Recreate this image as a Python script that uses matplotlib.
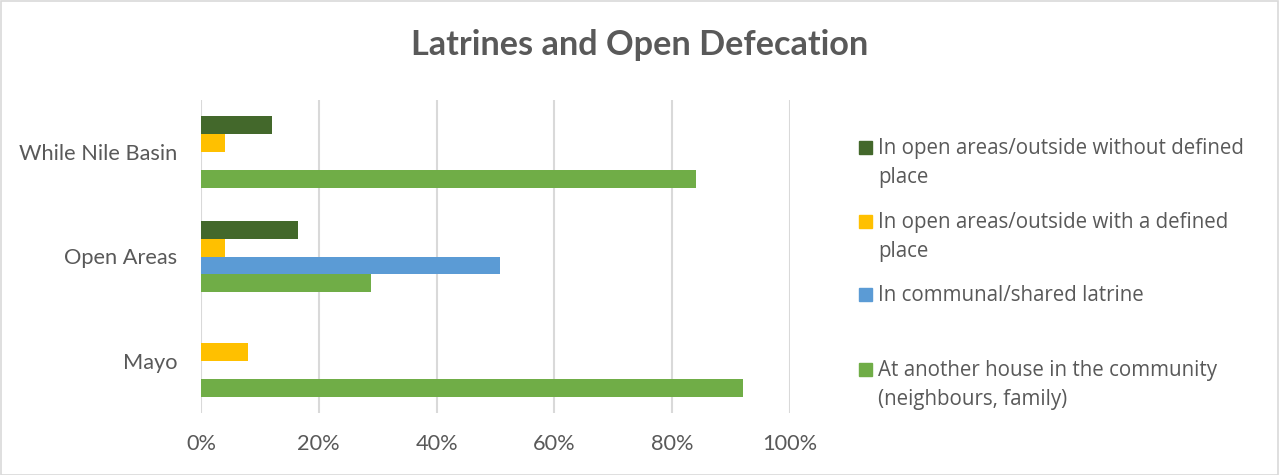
import matplotlib
matplotlib.use('Agg')
import matplotlib.pyplot as plt
from matplotlib.patches import Rectangle
from matplotlib.ticker import PercentFormatter

W, H = 1279, 475

categories = ['Mayo', 'Open Areas', 'While Nile Basin']

# series, bottom bar of each group first
series_names = [
    'At another house in the community\n(neighbours, family)',
    'In communal/shared latrine',
    'In open areas/outside with a defined\nplace',
    'In open areas/outside without defined\nplace',
]
another_house = [92.1, 28.8, 84.1]
communal = [0, 50.8, 0]
open_defined = [8.0, 4.1, 4.0]
open_undefined = [0, 16.4, 12.0]
series_values = [another_house, communal, open_defined, open_undefined]
colors = ['#70AD47', '#5B9BD5', '#FFC000', '#43682B']

x_ticks = [0, 20, 40, 60, 80, 100]

text_color = '#595959'
grid_color = '#D9D9D9'


def px(x, y):
    # pixel position -> figure fraction
    return x / W, 1 - y / H


fig = plt.figure(figsize=(W / 100, H / 100), dpi=100)
ax = fig.add_axes([201 / W, 1 - 413 / H, 589 / W, 313 / H])

bar_h = 0.171
n = len(series_values)
for i, (vals, col) in enumerate(zip(series_values, colors)):
    offset = (i - (n - 1) / 2) * bar_h
    ax.barh([k + offset for k in range(len(categories))], vals,
            height=bar_h, color=col, edgecolor='none', zorder=3)

ax.set_xlim(0, 100)
ax.set_ylim(-0.5, len(categories) - 0.5)
ax.set_xticks(x_ticks)
ax.xaxis.set_major_formatter(PercentFormatter(decimals=0))
ax.set_yticks(range(len(categories)))
ax.set_yticklabels(categories)

for s in ax.spines.values():
    s.set_visible(False)
ax.xaxis.grid(True, color=grid_color, lw=1.5, zorder=0)
ax.tick_params(length=0, labelcolor=text_color, labelsize=15.7)
ax.tick_params(axis='y', pad=17)
ax.tick_params(axis='x', pad=15)
for lab in ax.get_xticklabels() + ax.get_yticklabels():
    lab.set_family('Lato')

fig.text(*px(640, 45), 'Latrines and Open Defecation', ha='center',
         va='center', fontsize=24.7, fontweight='bold', color=text_color,
         family='Lato')

# legend, drawn by hand to match the wrapped Excel layout
leg_tops = [141, 215, 288, 363]
for top, name, col in zip(leg_tops, series_names[::-1], colors[::-1]):
    x0, y0 = px(859, top + 13)
    fig.add_artist(Rectangle((x0, y0), 13 / W, 13 / H, color=col,
                             transform=fig.transFigure))
    for j, line in enumerate(name.split('\n')):
        fig.text(*px(878, top + 13 + j * 29.5), line, ha='left',
                 va='baseline', fontsize=14.8, color=text_color,
                 family='Open Sans')

# chart border
fig.add_artist(Rectangle((0.5 / W, 0.5 / H), 1 - 1.5 / W, 1 - 1.5 / H,
                         fill=False, edgecolor=grid_color, lw=1.2,
                         transform=fig.transFigure))

fig.savefig('out.png', dpi=100)
